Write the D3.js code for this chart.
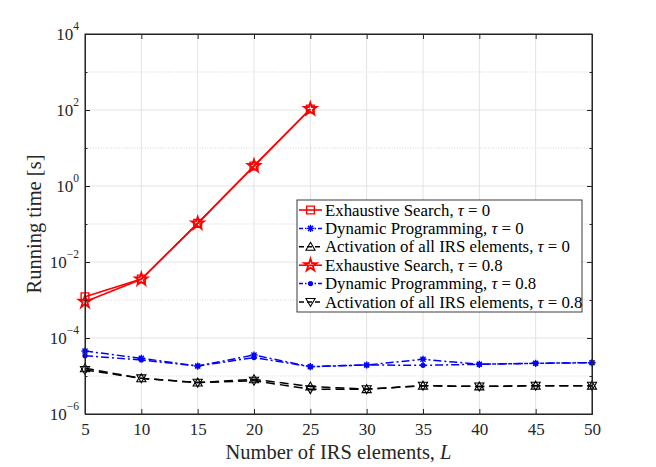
<!DOCTYPE html>
<html>
<head>
<meta charset="utf-8">
<script src="https://cdn.jsdelivr.net/npm/d3@7"></script>
<style>
body { margin: 0; background: #fff; }
svg, svg text { font-family: "Liberation Serif", "DejaVu Serif", serif; }
</style>
</head>
<body>
<svg id="chart"></svg>
<script>
// number of IRS elements L
const elements = [5, 10, 15, 20, 25, 30, 35, 40, 45, 50];
const elementsExhaustive = [5, 10, 15, 20, 25];

// running time [s]
const exhaustiveTau0 = [1.22e-3, 3.57e-3, 0.104, 3.36, 106];
const exhaustiveTau08 = [9.0e-4, 3.5e-3, 0.104, 3.36, 106];
const dynamicTau0 = [4.55e-5, 2.92e-5, 1.83e-5, 3.57e-5, 1.76e-5, 1.95e-5, 2.75e-5, 2.03e-5, 2.16e-5, 2.24e-5];
const dynamicTau08 = [3.42e-5, 2.64e-5, 1.83e-5, 3.05e-5, 1.76e-5, 1.95e-5, 1.91e-5, 2.03e-5, 2.16e-5, 2.24e-5];
const activationTau0 = [1.6e-5, 8.7e-6, 6.7e-6, 8.2e-6, 5.3e-6, 4.5e-6, 5.56e-6, 5.3e-6, 5.56e-6, 5.56e-6];
const activationTau08 = [1.44e-5, 8.7e-6, 6.7e-6, 7.5e-6, 4.5e-6, 4.5e-6, 5.56e-6, 5.3e-6, 5.56e-6, 5.56e-6];

const xTicks = [5, 10, 15, 20, 25, 30, 35, 40, 45, 50];
const yTickExponents = [-6, -4, -2, 0, 2, 4];

const legendLabels = [
    ["Exhaustive Search, ", " = 0"],
    ["Dynamic Programming, ", " = 0"],
    ["Activation of all IRS elements, ", " = 0"],
    ["Exhaustive Search, ", " = 0.8"],
    ["Dynamic Programming, ", " = 0.8"],
    ["Activation of all IRS elements, ", " = 0.8"]
];

const margin = { top: 34, right: 64, bottom: 53, left: 85 };
const width = 656 - margin.left - margin.right;
const height = 467 - margin.top - margin.bottom;

const svg = d3.select("#chart")
    .attr("width", 656)
    .attr("height", 467);

const g = svg.append("g")
    .attr("transform", `translate(${margin.left}, ${margin.top})`);

const xScale = d3.scaleLinear().domain([5, 50]).range([0, width]);
const yScale = d3.scaleLog().domain([1e-6, 1e4]).range([height, 0]);

const majorY = yTickExponents.map(e => Math.pow(10, e));
const minorY = yScale.ticks().filter(v => !majorY.some(m => Math.abs(m - v) / m < 1e-6));

// grid
g.append("g").selectAll("line")
    .data(minorY)
    .enter().append("line")
    .attr("x1", 0).attr("x2", width)
    .attr("y1", d => yScale(d)).attr("y2", d => yScale(d))
    .attr("stroke", "#c4c4c4")
    .attr("stroke-width", 0.7)
    .attr("stroke-dasharray", "1,1.6");

g.append("g").selectAll("line")
    .data(majorY)
    .enter().append("line")
    .attr("x1", 0).attr("x2", width)
    .attr("y1", d => yScale(d)).attr("y2", d => yScale(d))
    .attr("stroke", "#e3e3e3")
    .attr("stroke-width", 1);

g.append("g").selectAll("line")
    .data(xTicks)
    .enter().append("line")
    .attr("x1", d => xScale(d)).attr("x2", d => xScale(d))
    .attr("y1", 0).attr("y2", height)
    .attr("stroke", "#e3e3e3")
    .attr("stroke-width", 1);

// series
const series = [
    { x: elementsExhaustive, v: exhaustiveTau0, color: "#ff0000", dash: null, marker: "square", width: 1.6 },
    { x: elements, v: dynamicTau0, color: "#0000ff", dash: "8,3,2,3", marker: "asterisk", width: 1.5 },
    { x: elements, v: activationTau0, color: "#000000", dash: "9,5", marker: "up", width: 1.5 },
    { x: elementsExhaustive, v: exhaustiveTau08, color: "#ff0000", dash: null, marker: "star", width: 1.6 },
    { x: elements, v: dynamicTau08, color: "#0000ff", dash: "8,3,2,3", marker: "dot", width: 1.5 },
    { x: elements, v: activationTau08, color: "#000000", dash: "9,5", marker: "down", width: 1.5 }
];

const asteriskPath = (r) => {
    const d = r * Math.SQRT1_2;
    return `M${-r},0L${r},0M0,${-r}L0,${r}M${-d},${-d}L${d},${d}M${-d},${d}L${d},${-d}`;
};

function drawMarker(sel, s) {
    if (s.marker === "square") {
        sel.append("path").attr("d", d3.symbol(d3.symbolSquare, 60)())
            .attr("fill", "none").attr("stroke", s.color).attr("stroke-width", 1.4);
    } else if (s.marker === "star") {
        sel.append("path").attr("d", d3.symbol(d3.symbolStar, 48)())
            .attr("fill", "none").attr("stroke", s.color).attr("stroke-width", 1.8);
    } else if (s.marker === "asterisk") {
        sel.append("path").attr("d", asteriskPath(3.6))
            .attr("fill", "none").attr("stroke", s.color).attr("stroke-width", 1.4);
    } else if (s.marker === "dot") {
        sel.append("circle").attr("r", 2.6).attr("fill", s.color);
    } else if (s.marker === "up") {
        sel.append("path").attr("d", d3.symbol(d3.symbolTriangle, 36)())
            .attr("transform", "translate(0,0.8)")
            .attr("fill", "none").attr("stroke", s.color).attr("stroke-width", 1.1);
    } else if (s.marker === "down") {
        sel.append("path").attr("d", d3.symbol(d3.symbolTriangle, 36)())
            .attr("transform", "translate(0,-0.8) rotate(180)")
            .attr("fill", "none").attr("stroke", s.color).attr("stroke-width", 1.1);
    }
}

const line = d3.line().x(d => xScale(d[0])).y(d => yScale(d[1]));

series.forEach(s => {
    const pts = s.x.map((x, i) => [x, s.v[i]]);
    g.append("path")
        .datum(pts)
        .attr("d", line)
        .attr("fill", "none")
        .attr("stroke", s.color)
        .attr("stroke-width", s.width)
        .attr("stroke-dasharray", s.dash);
    g.append("g").selectAll("g")
        .data(pts)
        .enter().append("g")
        .attr("transform", d => `translate(${xScale(d[0])}, ${yScale(d[1])})`)
        .each(function () { drawMarker(d3.select(this), s); });
});

// axes
const axisColor = "#262626";
const serif = '"Liberation Serif", "DejaVu Serif", serif';

const xAxis = g.append("g")
    .attr("transform", `translate(0, ${height})`)
    .call(d3.axisBottom(xScale).tickValues(xTicks).tickSizeInner(-5).tickSizeOuter(0).tickPadding(9));
xAxis.attr("font-family", serif).attr("font-size", 17);
xAxis.selectAll("text").attr("fill", axisColor);

g.append("g")
    .call(d3.axisTop(xScale).tickValues(xTicks).tickSizeInner(-5).tickSizeOuter(0).tickFormat(""));

const yAxis = g.append("g")
    .call(d3.axisLeft(yScale).tickValues(majorY).tickSizeInner(-5).tickSizeOuter(0).tickPadding(6).tickFormat(""));
yAxis.attr("font-family", serif).attr("font-size", 17);

yAxis.selectAll(".tick text").each(function (d) {
    const t = d3.select(this).attr("fill", axisColor).attr("dy", "0.3em");
    t.append("tspan").text("10");
    t.append("tspan").attr("font-size", 11.5).attr("dy", "-0.85em").text(String(Math.round(Math.log10(d))).replace("-", "\u2212"));
});

g.append("g")
    .call(d3.axisLeft(yScale).tickValues(minorY).tickSizeInner(-2.5).tickSizeOuter(0).tickFormat(""));

g.append("g")
    .attr("transform", `translate(${width}, 0)`)
    .call(d3.axisRight(yScale).tickValues(majorY).tickSizeInner(-5).tickSizeOuter(0).tickFormat(""));

g.append("g")
    .attr("transform", `translate(${width}, 0)`)
    .call(d3.axisRight(yScale).tickValues(minorY).tickSizeInner(-2.5).tickSizeOuter(0).tickFormat(""));

g.selectAll(".domain").attr("stroke", axisColor);
g.selectAll(".tick line").attr("stroke", axisColor);

g.append("rect")
    .attr("width", width)
    .attr("height", height)
    .attr("fill", "none")
    .attr("stroke", axisColor)
    .attr("stroke-width", 1);

// axis titles
svg.append("text")
    .attr("x", margin.left + width / 2)
    .attr("y", 459)
    .attr("text-anchor", "middle")
    .attr("font-size", 20.5)
    .attr("fill", axisColor)
    .call(t => {
        t.append("tspan").text("Number of IRS elements, ");
        t.append("tspan").attr("font-style", "italic").text("L");
    });

svg.append("text")
    .attr("transform", "translate(41, 224) rotate(-90)")
    .attr("text-anchor", "middle")
    .attr("font-size", 20.5)
    .attr("fill", axisColor)
    .text("Running time [s]");

// legend
const legend = svg.append("g").attr("transform", "translate(297, 200)");
const rowH = 18.4;

legend.append("rect")
    .attr("width", 285)
    .attr("height", 112)
    .attr("fill", "#fff")
    .attr("stroke", axisColor)
    .attr("stroke-width", 0.9);

series.forEach((s, i) => {
    const row = legend.append("g").attr("transform", `translate(0, ${10 + i * rowH})`);
    row.append("line")
        .attr("x1", 2).attr("x2", 25)
        .attr("stroke", s.color)
        .attr("stroke-width", s.width)
        .attr("stroke-dasharray", s.dash === "9,5" ? "5,3" : (s.dash ? "4,2,1.5,2" : null));
    drawMarker(row.append("g").attr("transform", "translate(13.5, 0)"), s);
    row.append("text")
        .attr("x", 28)
        .attr("y", 0)
        .attr("dy", "0.33em")
        .attr("font-size", 16.8)
        .attr("fill", "#000")
        .call(t => {
            t.append("tspan").text(legendLabels[i][0]);
            t.append("tspan").attr("font-style", "italic").text("\u03c4");
            t.append("tspan").text(legendLabels[i][1]);
        });
});
</script>
</body>
</html>
